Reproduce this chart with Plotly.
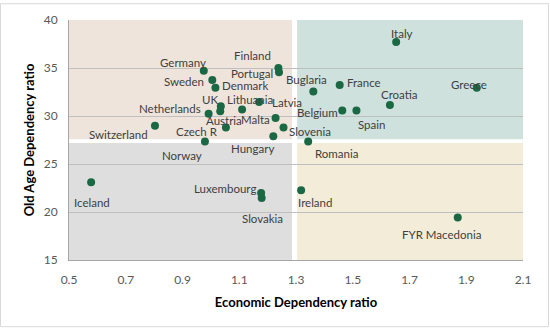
import plotly.graph_objects as go

countries = ["Germany", "Sweden", "Denmark", "Finland", "Portugal", "UK", "Austria",
             "Netherlands", "Lithuania", "Latvia", "Malta", "Czech R", "Slovenia",
             "Hungary", "Switzerland", "Norway", "Italy", "Buglaria", "France", "Greece",
             "Croatia", "Belgium", "Spain", "Romania", "Iceland", "Luxembourg",
             "Slovakia", "Ireland", "FYR Macedonia"]
economic_dep = [0.975, 1.005, 1.016, 1.238, 1.240, 1.035, 1.033,
                0.992, 1.110, 1.170, 1.228, 1.053, 1.256,
                1.220, 0.803, 0.979, 1.653, 1.361, 1.454, 1.937,
                1.631, 1.463, 1.513, 1.343, 0.578, 1.177,
                1.179, 1.318, 1.870]
old_age_dep = [34.72, 33.76, 32.93, 34.99, 34.55, 31.02, 30.50,
               30.23, 30.67, 31.46, 29.78, 28.79, 28.79,
               27.90, 28.99, 27.35, 37.70, 32.56, 33.24, 32.93,
               31.15, 30.57, 30.57, 27.35, 23.10, 21.97,
               21.45, 22.27, 19.42]

x_ticks = [0.5, 0.7, 0.9, 1.1, 1.3, 1.5, 1.7, 1.9, 2.1]
y_ticks = [15, 20, 25, 30, 35, 40]

# label offsets in pixels (dx, dy; dy positive = up)
label_offsets = {
    "Germany": (-21, 8), "Sweden": (-28, -2), "Denmark": (30, 2), "Finland": (-26, 13),
    "Portugal": (-27, -1), "UK": (-11, 7), "Austria": (4, -9), "Netherlands": (-39, 5),
    "Lithuania": (8, 10), "Latvia": (28, -1), "Malta": (-20, -1), "Czech R": (-29, -4),
    "Slovenia": (26, -4), "Hungary": (-21, -12), "Switzerland": (-36, -9), "Norway": (-23, -14),
    "Italy": (6, 9), "Buglaria": (-7, 12), "France": (24, 2), "Greece": (-8, 3),
    "Croatia": (10, 10), "Belgium": (-25, -2), "Spain": (15, -14), "Romania": (28, -12),
    "Iceland": (1, -20), "Luxembourg": (-36, 5), "Slovakia": (1, -20), "Ireland": (14, -12),
    "FYR Macedonia": (-16, -17),
}

X_MIN, X_MAX, Y_MIN, Y_MAX = 0.5, 2.1, 15, 40
X_SPLIT, Y_SPLIT = 1.295, 27.375
GX, GY = 0.009, 0.2

ML, MR, MT, MB = 69, 27, 17, 68
W, H = 550, 328

FONT = "Lato"

fig = go.Figure()

quadrants = [
    (X_MIN, X_SPLIT - GX, Y_SPLIT + GY, Y_MAX, "#EFE4DB"),
    (X_SPLIT + GX, X_MAX, Y_SPLIT + GY, Y_MAX, "#CEE1DC"),
    (X_MIN, X_SPLIT - GX, Y_MIN, Y_SPLIT - GY, "#DEDEDE"),
    (X_SPLIT + GX, X_MAX, Y_MIN, Y_SPLIT - GY, "#F3ECD9"),
]
for x0, x1, y0, y1, c in quadrants:
    fig.add_shape(type="rect", xref="x", yref="y", x0=x0, x1=x1, y0=y0, y1=y1,
                  fillcolor=c, line_width=0, layer="below")

fig.add_trace(go.Scatter(
    x=economic_dep, y=old_age_dep, mode="markers",
    marker=dict(size=8, color="#1A6844"),
    hovertext=countries, showlegend=False,
))

for name, xv, yv in zip(countries, economic_dep, old_age_dep):
    dx, dy = label_offsets[name]
    fig.add_annotation(x=xv, y=yv, text=name, showarrow=False,
                       xshift=dx, yshift=dy, xanchor="center", yanchor="middle",
                       font=dict(family=FONT, size=11.5, color="#404040"))

# outer chart border
pw = W - ML - MR
ph = H - MT - MB
fig.add_shape(type="rect", xref="paper", yref="paper",
              x0=(-ML + 0.5) / pw, x1=(pw + MR - 1.5) / pw,
              y0=(-MB + 0.5) / ph, y1=(ph + MT - 0.5) / ph,
              line=dict(color="#D9D9D9", width=1), fillcolor="rgba(0,0,0,0)", layer="above")

fig.update_layout(
    width=W, height=H,
    margin=dict(l=ML, r=MR, t=MT, b=MB),
    paper_bgcolor="white", plot_bgcolor="white",
    font=dict(family=FONT, size=12, color="#595959"),
    xaxis=dict(range=[X_MIN, X_MAX], tickvals=x_ticks, ticktext=[f"{v:.1f}" for v in x_ticks],
               showgrid=False, zeroline=False, showline=True, linecolor="#A6A6A6", linewidth=1,
               ticks="", tickfont=dict(size=12, color="#595959"), ticklabelstandoff=9,
               title=dict(text="<b>Economic Dependency ratio</b>", standoff=11,
                          font=dict(size=13, color="#000000"))),
    yaxis=dict(range=[Y_MIN, Y_MAX], tickvals=y_ticks,
               showgrid=True, gridcolor="#BFBFBF", gridwidth=1, zeroline=False,
               showline=True, linecolor="#A6A6A6", linewidth=1,
               ticks="", tickfont=dict(size=12, color="#595959"), ticklabelstandoff=8,
               title=dict(text="<b>Old Age Dependency ratio</b>", standoff=6,
                          font=dict(size=13, color="#000000"))),
)

fig.write_html("out.html")
